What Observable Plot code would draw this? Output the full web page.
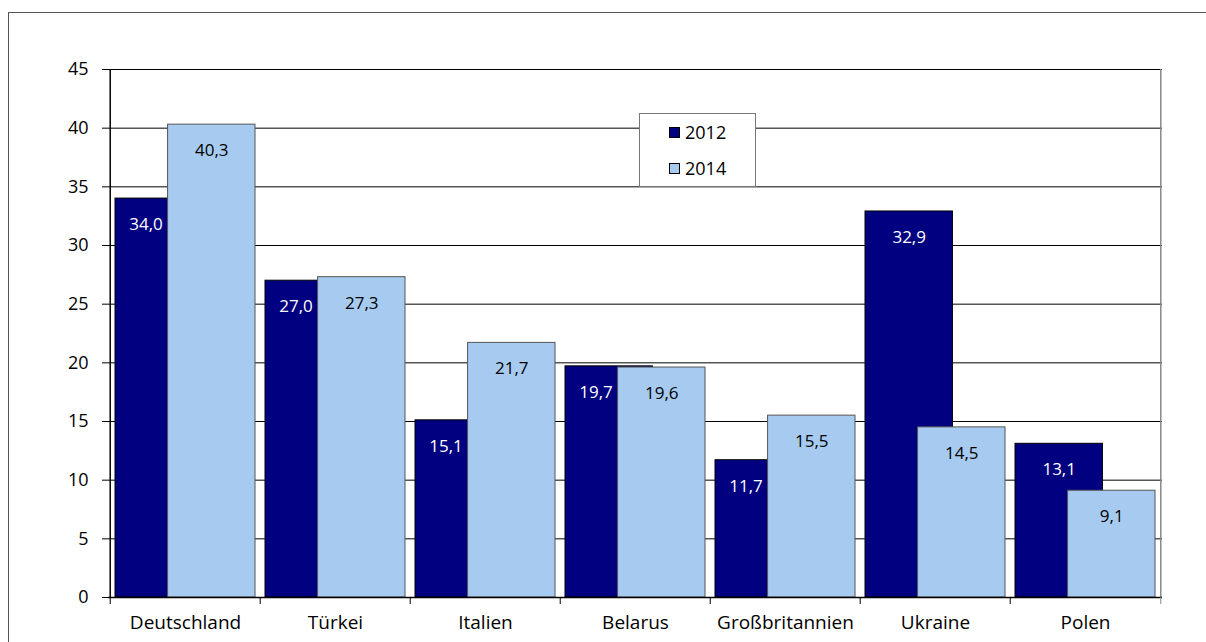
<!DOCTYPE html>
<html>
<head>
<meta charset="utf-8">
<script src="https://cdn.jsdelivr.net/npm/d3@7"></script>
<script src="https://cdn.jsdelivr.net/npm/@observablehq/plot@0.6"></script>
<style>
  html, body { margin: 0; padding: 0; background: #fff; overflow: hidden; width: 1206px; height: 642px; }
  #wrap { position: relative; width: 1206px; height: 642px; font-family: "Open Sans", sans-serif; }
  #outer { position: absolute; left: 8px; top: 12px; width: 1400px; height: 800px; border: 1.5px solid #555; box-sizing: border-box; }
  #chart { position: absolute; left: 0; top: 0; }
  #legend { position: absolute; left: 639px; top: 113px; width: 117px; height: 74px; box-sizing: border-box;
            border: 1px solid #777; background: #fff; font-size: 18px; color: #000; }
  .item { position: absolute; left: 29px; display: flex; align-items: center; line-height: 1; }
  .sw { width: 9px; height: 9px; border: 1px solid #000; margin-right: 5px; }
</style>
</head>
<body>
<div id="wrap">
  <div id="outer"></div>
  <div id="chart"></div>
  <div id="legend"></div>
</div>
<script>
const countries = ["Deutschland", "Türkei", "Italien", "Belarus", "Großbritannien", "Ukraine", "Polen"];
const values2012 = [34.0, 27.0, 15.1, 19.7, 11.7, 32.9, 13.1];
const values2014 = [40.3, 27.3, 21.7, 19.6, 15.5, 14.5, 9.1];
const years = ["2012", "2014"];
const yTicks = [0, 5, 10, 15, 20, 25, 30, 35, 40, 45];
const colors = {"2012": "#000080", "2014": "#A6CAF0"};

const W = 1206, H = 642, mL = 108, mR = 44, mT = 69, mB = 45;
const bw = (W - mL - mR) / countries.length;
const barW = 88, edge = 5;

const d2012 = countries.map((c, i) => ({country: c, value: values2012[i], other: values2014[i]}));
const d2014 = countries.map((c, i) => ({country: c, value: values2014[i]}));
const fmt = v => v.toFixed(1).replace(".", ",");
const occluded = d => d.other >= d.value - 1;

const plot = Plot.plot({
  width: W, height: H,
  marginLeft: mL, marginRight: mR, marginTop: mT, marginBottom: mB,
  style: {fontFamily: "Open Sans, sans-serif", fontSize: "18px", color: "#000", background: "transparent"},
  x: {domain: countries, padding: 0},
  y: {domain: [0, 45]},
  marks: [
    Plot.gridY(yTicks, {stroke: "#000", strokeOpacity: 1, strokeWidth: 1}),
    Plot.ruleX([countries[countries.length - 1]], {dx: bw / 2, y1: 0, y2: 45, stroke: "#888", strokeWidth: 1.5}),
    Plot.barY(d2012, {x: "country", y: "value", fill: colors["2012"], stroke: "#000", strokeWidth: 1,
      insetLeft: edge, insetRight: bw - edge - barW}),
    Plot.barY(d2014, {x: "country", y: "value", fill: colors["2014"], stroke: "#555", strokeWidth: 1,
      insetLeft: bw - edge - barW, insetRight: edge}),
    Plot.ruleY([0], {stroke: "#000", strokeWidth: 1.5}),
    Plot.ruleX([countries[0]], {dx: -bw / 2, y1: 0, y2: 45, stroke: "#000", strokeWidth: 1.5}),
    Plot.ruleX(countries, {x: d => d, y1: 0, y2: 0, insetBottom: -7, dx: -bw / 2, stroke: "#000"}),
    Plot.ruleX([countries[countries.length - 1]], {y1: 0, y2: 0, insetBottom: -7, dx: bw / 2, stroke: "#888"}),
    Plot.axisY({ticks: yTicks, tickSize: 6, tickPadding: 14, label: null, fontSize: 18, stroke: "#000"}),
    Plot.axisX({tickSize: 0, tickPadding: 18, label: null, fontSize: 19}),
    Plot.text(d2012.filter(occluded), {x: "country", y: "value", text: d => fmt(d.value),
      dy: 26, dx: bw / 2 - barW - edge - 5, textAnchor: "end", fill: "#fff", fontSize: 17}),
    Plot.text(d2012.filter(d => !occluded(d)), {x: "country", y: "value", text: d => fmt(d.value),
      dy: 26, dx: edge + barW / 2 - bw / 2, fill: "#fff", fontSize: 17}),
    Plot.text(d2014, {x: "country", y: "value", text: d => fmt(d.value),
      dy: 26, dx: bw / 2 - edge - barW / 2, fill: "#000", fontSize: 17})
  ]
});
document.getElementById("chart").appendChild(plot);

const legend = document.getElementById("legend");
years.forEach((yr, i) => {
  const it = document.createElement("div");
  it.className = "item";
  it.style.top = (i === 0 ? 9 : 45) + "px";
  const sw = document.createElement("div");
  sw.className = "sw";
  sw.style.background = colors[yr];
  const t = document.createElement("span");
  t.textContent = yr;
  it.appendChild(sw); it.appendChild(t);
  legend.appendChild(it);
});
</script>
</body>
</html>
